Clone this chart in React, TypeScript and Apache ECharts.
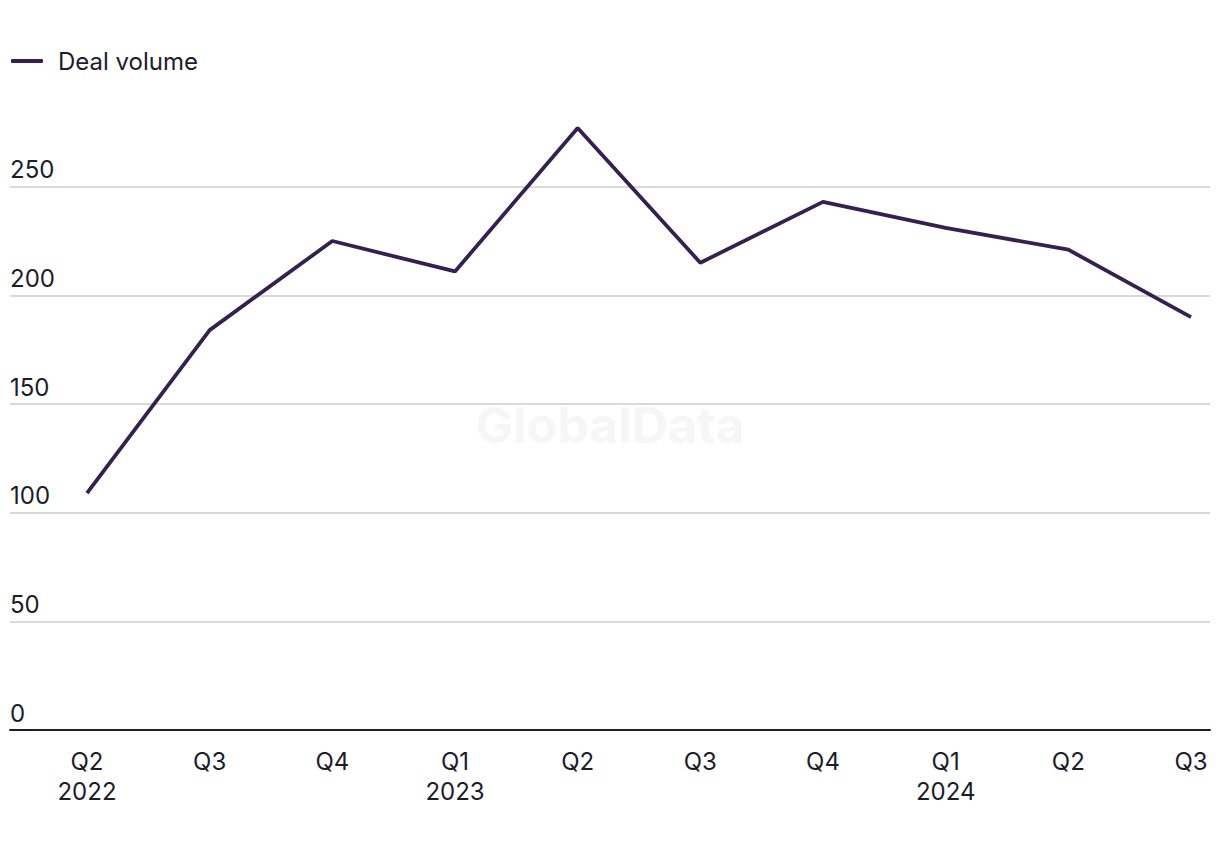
import React, { useEffect, useRef } from "react";
import * as echarts from "echarts";

const quarters = ["Q2\n2022", "Q3", "Q4", "Q1\n2023", "Q2", "Q3", "Q4", "Q1\n2024", "Q2", "Q3"];
const dealVolume = [109, 184, 225, 211, 277, 215, 243, 231, 221, 190];
const yTicksMax = 300;
const yInterval = 50;

const FONT = "Inter, 'Liberation Sans', sans-serif";
const TEXT = "#1c1c2b";
const LINE = "#35204f";

export default function App() {
  const ref = useRef<HTMLDivElement>(null);
  useEffect(() => {
    if (!ref.current) return;
    const chart = echarts.init(ref.current, undefined, { renderer: "svg" });
    const gridTop = 78;
    const gridBottom = 120;
    chart.setOption({
      animation: false,
      backgroundColor: "#ffffff",
      textStyle: { fontFamily: FONT },
      legend: {
        left: 6,
        top: 44,
        itemWidth: 32,
        itemHeight: 4,
        itemGap: 20,
        icon: "roundRect",
        textStyle: { fontSize: 24, color: TEXT, fontFamily: FONT, padding: [0, 0, 0, 10] },
        data: ["Deal volume"],
      },
      graphic: [
        {
          type: "text",
          left: "center",
          top: 400,
          style: {
            text: "GlobalData",
            fontSize: 50,
            fontWeight: "bold",
            fontFamily: FONT,
            fill: "#f6f6f6",
          },
          z: 0,
        },
      ],
      grid: [
        { left: 87, right: 29, top: gridTop, bottom: gridBottom },
        { left: 10, right: 10, top: gridTop, bottom: gridBottom },
      ],
      xAxis: [
        {
          type: "category",
          gridIndex: 0,
          data: quarters,
          boundaryGap: false,
          axisLine: { show: false },
          axisTick: { show: false },
          axisLabel: {
            fontSize: 24,
            color: TEXT,
            lineHeight: 30,
            margin: 16,
            fontFamily: FONT,
          },
          splitLine: { show: false },
        },
        {
          type: "value",
          gridIndex: 1,
          min: 0,
          max: 1,
          axisLine: { show: true, onZero: false, lineStyle: { color: "#1c1c2b", width: 2 } },
          axisTick: { show: false },
          axisLabel: { show: false },
          splitLine: { show: false },
        },
      ],
      yAxis: [
        {
          type: "value",
          gridIndex: 0,
          min: 0,
          max: yTicksMax,
          interval: yInterval,
          axisLine: { show: false },
          axisTick: { show: false },
          axisLabel: { show: false },
          splitLine: { show: false },
        },
        {
          type: "value",
          gridIndex: 1,
          min: 0,
          max: yTicksMax,
          interval: yInterval,
          axisLine: { show: false },
          axisTick: { show: false },
          axisLabel: {
            inside: true,
            margin: 0,
            fontSize: 24,
            color: TEXT,
            fontFamily: FONT,
            verticalAlign: "bottom",
            padding: [0, 0, 5, 0],
            showMaxLabel: false,
          },
          splitLine: {
            show: true,
            lineStyle: {
              color: ["#d9d9d9", "#d9d9d9", "#d9d9d9", "#d9d9d9", "#d9d9d9", "#d9d9d9", "rgba(0,0,0,0)"],
              width: 2,
            },
          },
        },
      ],
      series: [
        {
          name: "Deal volume",
          type: "line",
          xAxisIndex: 0,
          yAxisIndex: 0,
          data: dealVolume,
          showSymbol: false,
          symbol: "none",
          color: LINE,
          lineStyle: { color: LINE, width: 3.8 },
          z: 5,
        },
      ],
    });
    return () => chart.dispose();
  }, []);
  return (
    <div
      ref={ref}
      style={{ position: "fixed", left: 0, top: 0, width: 1220, height: 850 }}
    />
  );
}
